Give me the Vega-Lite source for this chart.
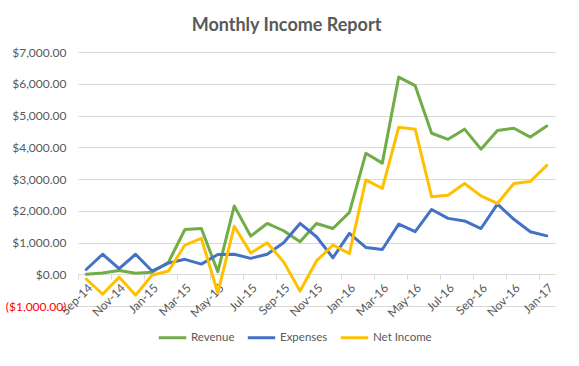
{
  "$schema": "https://vega.github.io/schema/vega-lite/v6.json",
  "width": 477,
  "height": 254,
  "autosize": {"type": "none"},
  "padding": {"left": 78, "top": 52, "right": 24, "bottom": 60},
  "background": "white",
  "title": {
    "text": "Monthly Income Report",
    "fontSize": 18,
    "fontWeight": "bold",
    "color": "#595959",
    "font": "Lato",
    "anchor": "middle",
    "dx": -30,
    "offset": 11
  },
  "config": {
    "view": {"stroke": null},
    "font": "Lato"
  },
  "data": {
    "values": [
      {"month": "Sep-14", "Revenue": 0, "Expenses": 150, "Net Income": -150},
      {"month": "Oct-14", "Revenue": 40, "Expenses": 630, "Net Income": -630},
      {"month": "Nov-14", "Revenue": 120, "Expenses": 180, "Net Income": -90},
      {"month": "Dec-14", "Revenue": 30, "Expenses": 630, "Net Income": -660},
      {"month": "Jan-15", "Revenue": 60, "Expenses": 100, "Net Income": -30},
      {"month": "Feb-15", "Revenue": 380, "Expenses": 350, "Net Income": 100},
      {"month": "Mar-15", "Revenue": 1410, "Expenses": 470, "Net Income": 920},
      {"month": "Apr-15", "Revenue": 1440, "Expenses": 320, "Net Income": 1130},
      {"month": "May-15", "Revenue": 80, "Expenses": 620, "Net Income": -590},
      {"month": "Jun-15", "Revenue": 2150, "Expenses": 630, "Net Income": 1510},
      {"month": "Jul-15", "Revenue": 1200, "Expenses": 500, "Net Income": 670},
      {"month": "Aug-15", "Revenue": 1600, "Expenses": 630, "Net Income": 990},
      {"month": "Sep-15", "Revenue": 1370, "Expenses": 990, "Net Income": 390},
      {"month": "Oct-15", "Revenue": 1020, "Expenses": 1600, "Net Income": -530},
      {"month": "Nov-15", "Revenue": 1600, "Expenses": 1180, "Net Income": 420},
      {"month": "Dec-15", "Revenue": 1440, "Expenses": 520, "Net Income": 920},
      {"month": "Jan-16", "Revenue": 1950, "Expenses": 1290, "Net Income": 650},
      {"month": "Feb-16", "Revenue": 3810, "Expenses": 845, "Net Income": 2970},
      {"month": "Mar-16", "Revenue": 3500, "Expenses": 780, "Net Income": 2700},
      {"month": "Apr-16", "Revenue": 6210, "Expenses": 1580, "Net Income": 4630},
      {"month": "May-16", "Revenue": 5940, "Expenses": 1340, "Net Income": 4570},
      {"month": "Jun-16", "Revenue": 4440, "Expenses": 2040, "Net Income": 2440},
      {"month": "Jul-16", "Revenue": 4250, "Expenses": 1760, "Net Income": 2490},
      {"month": "Aug-16", "Revenue": 4570, "Expenses": 1680, "Net Income": 2860},
      {"month": "Sep-16", "Revenue": 3940, "Expenses": 1440, "Net Income": 2470},
      {"month": "Oct-16", "Revenue": 4530, "Expenses": 2210, "Net Income": 2230},
      {"month": "Nov-16", "Revenue": 4600, "Expenses": 1730, "Net Income": 2860},
      {"month": "Dec-16", "Revenue": 4320, "Expenses": 1340, "Net Income": 2920},
      {"month": "Jan-17", "Revenue": 4670, "Expenses": 1210, "Net Income": 3430}
    ]
  },
  "transform": [
    {"fold": ["Revenue", "Expenses", "Net Income"], "as": ["series", "value"]}
  ],
  "mark": {"type": "line", "strokeWidth": 3, "strokeJoin": "round", "strokeCap": "round"},
  "encoding": {
    "x": {
      "field": "month",
      "type": "ordinal",
      "sort": null,
      "scale": {"type": "point", "padding": 0.5},
      "axis": {
        "title": null,
        "values": ["Sep-14", "Nov-14", "Jan-15", "Mar-15", "May-15", "Jul-15", "Sep-15", "Nov-15", "Jan-16", "Mar-16", "May-16", "Jul-16", "Sep-16", "Nov-16", "Jan-17"],
        "labelAngle": -45,
        "labelFontSize": 12,
        "labelColor": "#595959",
        "labelPadding": 3,
        "offset": -32,
        "domainColor": "#d9d9d9",
        "tickColor": "#d9d9d9",
        "tickSize": 5,
        "tickOffset": -8,
        "labelOffset": 8,
        "grid": false
      }
    },
    "y": {
      "field": "value",
      "type": "quantitative",
      "scale": {"domain": [-1000, 7000], "nice": false, "zero": false},
      "axis": {
        "title": null,
        "values": [-1000, 0, 1000, 2000, 3000, 4000, 5000, 6000, 7000],
        "labelExpr": "datum.value < 0 ? '($' + format(-datum.value, ',.2f') + ')' : '$' + format(datum.value, ',.2f')",
        "labelColor": {"condition": {"test": "datum.value < 0", "value": "#ff0000"}, "value": "#595959"},
        "labelFontSize": 12,
        "labelPadding": 12,
        "domain": false,
        "ticks": false,
        "grid": true,
        "gridColor": "#d9d9d9",
        "gridWidth": 1
      }
    },
    "color": {
      "field": "series",
      "type": "nominal",
      "sort": ["Revenue", "Expenses", "Net Income"],
      "scale": {"domain": ["Revenue", "Expenses", "Net Income"], "range": ["#70AD47", "#4472C4", "#FFC000"]},
      "legend": {
        "title": null,
        "orient": "none",
        "direction": "horizontal",
        "legendX": 79,
        "legendY": 270,
        "symbolType": "stroke",
        "symbolStrokeWidth": 3,
        "symbolSize": 750,
        "labelFontSize": 11.5,
        "labelColor": "#595959",
        "labelOffset": 3,
        "columnPadding": 6
      }
    }
  }
}
